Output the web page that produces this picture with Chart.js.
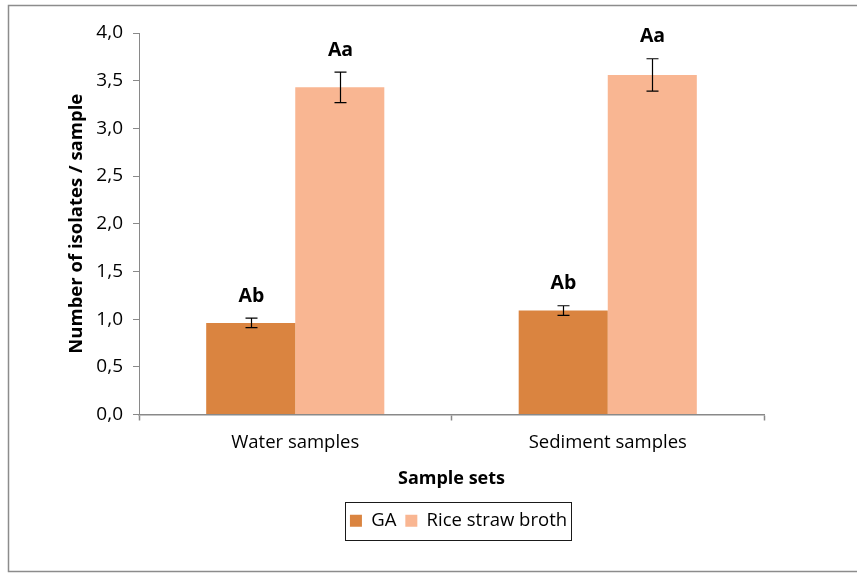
<!DOCTYPE html>
<html>
<head>
<meta charset="utf-8">
<script src="https://cdn.jsdelivr.net/npm/chart.js@4/dist/chart.umd.min.js"></script>
<style>
  html, body { margin: 0; padding: 0; background: #ffffff; }
  #wrap { width: 857px; height: 574px; position: relative; }
</style>
</head>
<body>
<div id="wrap"><canvas id="chart" width="857" height="574"></canvas></div>
<script>
// Sample sets on the x axis
const categories = ['Water samples', 'Sediment samples'];

// Mean number of isolates per sample, by isolation medium
const gaValues = [0.96, 1.09];
const riceValues = [3.43, 3.56];

// Error bar half-lengths
const gaErrors = [0.05, 0.05];
const riceErrors = [0.16, 0.17];

// Significance letters shown above each bar
const gaLetters = ['Ab', 'Ab'];
const riceLetters = ['Aa', 'Aa'];

const seriesNames = ['GA', 'Rice straw broth'];
const yTicks = [0, 0.5, 1, 1.5, 2, 2.5, 3, 3.5, 4];

const FONT = '"Open Sans", Lato, sans-serif';
const AXIS_GREY = '#898989';

// Light frame around the whole figure
const framePlugin = {
  id: 'frame',
  beforeDraw(chart) {
    const ctx = chart.ctx;
    ctx.save();
    ctx.fillStyle = '#ffffff';
    ctx.fillRect(0, 0, chart.width, chart.height);
    ctx.strokeStyle = '#8c8c8c';
    ctx.lineWidth = 1.5;
    ctx.strokeRect(8.5, 5.5, chart.width, chart.height - 8);
    ctx.restore();
    // centre the legend row under the plot
    const lg = chart.legend;
    if (lg) {
      const w = lg.right - lg.left;
      const cx = (chart.chartArea.left + chart.chartArea.right) / 2 + 7;
      lg.left = cx - w / 2;
      lg.right = cx + w / 2;
    }
  }
};

// Box around the legend entries
const legendBoxPlugin = {
  id: 'legendBox',
  afterDraw(chart) {
    const lg = chart.legend;
    if (!lg) return;
    const ctx = chart.ctx;
    const rowW = lg.lineWidths ? lg.lineWidths[0] : (lg.right - lg.left);
    const cx = (lg.left + lg.right) / 2;
    ctx.save();
    ctx.strokeStyle = '#1a1a1a';
    ctx.lineWidth = 1;
    ctx.strokeRect(Math.round(cx - rowW / 2) + 0.5, Math.round(lg.top) - 0.5, Math.round(rowW), 38);
    ctx.restore();
  }
};

// Error bars and significance letters
const errorPlugin = {
  id: 'errorBars',
  afterDatasetsDraw(chart) {
    const ctx = chart.ctx;
    const y = chart.scales.y;
    const errs = [gaErrors, riceErrors];
    const letters = [gaLetters, riceLetters];
    ctx.save();
    chart.data.datasets.forEach((ds, di) => {
      const meta = chart.getDatasetMeta(di);
      meta.data.forEach((bar, i) => {
        const v = ds.data[i];
        const e = errs[di][i];
        const x = Math.round(bar.x) + 0.5;
        const yTop = y.getPixelForValue(v + e);
        const yBot = y.getPixelForValue(v - e);
        ctx.strokeStyle = '#000000';
        ctx.lineWidth = 1.2;
        ctx.beginPath();
        ctx.moveTo(x, yTop); ctx.lineTo(x, yBot);
        ctx.moveTo(x - 6, yTop); ctx.lineTo(x + 6, yTop);
        ctx.moveTo(x - 6, yBot); ctx.lineTo(x + 6, yBot);
        ctx.stroke();
        ctx.fillStyle = '#000000';
        ctx.font = 'bold 19.5px ' + FONT;
        ctx.textAlign = 'center';
        ctx.textBaseline = 'middle';
        ctx.fillText(letters[di][i], x, yTop - 22);
      });
    });
    ctx.restore();
  }
};

new Chart(document.getElementById('chart'), {
  type: 'bar',
  data: {
    labels: categories,
    datasets: [
      { label: seriesNames[0], data: gaValues, backgroundColor: 'rgb(218,132,64)', borderWidth: 0 },
      { label: seriesNames[1], data: riceValues, backgroundColor: 'rgb(249,182,146)', borderWidth: 0 }
    ]
  },
  options: {
    responsive: false,
    animation: false,
    devicePixelRatio: 1,
    events: [],
    layout: { padding: { left: 63, right: 93, top: 33, bottom: 34 } },
    datasets: { bar: { categoryPercentage: 0.57, barPercentage: 1.0 } },
    scales: {
      x: {
        offset: true,
        afterFit(scale) { scale.height = 88; },
        grid: { display: true, drawOnChartArea: false, offset: true, color: AXIS_GREY, tickLength: 6, tickWidth: 1.5 },
        border: { display: true, color: AXIS_GREY, width: 1.5 },
        ticks: { color: '#000000', font: { family: FONT, size: 18.5 }, padding: 11 },
        title: { display: true, text: 'Sample sets', color: '#000000',
                 font: { family: FONT, size: 18, weight: 'bold' }, padding: { top: 4, bottom: 13 } }
      },
      y: {
        min: 0,
        max: 4,
        afterFit(scale) { scale.width = 76; },
        afterBuildTicks(scale) { scale.ticks = yTicks.map(v => ({ value: v })); },
        grid: { display: true, drawOnChartArea: false, color: AXIS_GREY, tickLength: 6 },
        border: { display: true, color: AXIS_GREY, width: 1 },
        ticks: {
          color: '#000000',
          font: { family: FONT, size: 19 },
          padding: 10,
          callback: v => v.toFixed(1).replace('.', ',')
        },
        title: { display: true, text: 'Number of isolates / sample', color: '#000000',
                 font: { family: FONT, size: 18.5, weight: 'bold' }, padding: { top: 3, bottom: 4 } }
      }
    },
    plugins: {
      legend: {
        display: true,
        position: 'bottom',
        labels: {
          color: '#000000',
          font: { family: FONT, size: 18.5 },
          boxWidth: 12,
          boxHeight: 12,
          padding: 9
        }
      },
      tooltip: { enabled: false }
    }
  },
  plugins: [framePlugin, errorPlugin, legendBoxPlugin]
});
</script>
</body>
</html>
